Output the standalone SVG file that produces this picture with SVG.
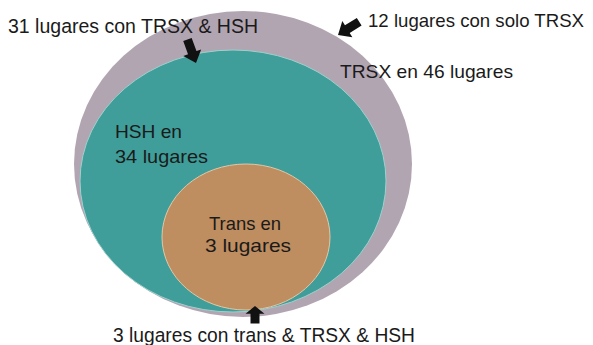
<svg xmlns="http://www.w3.org/2000/svg" width="593" height="345" viewBox="0 0 593 345">
<style>
.t{font-family:"Liberation Sans","DejaVu Sans",sans-serif;fill:#1a1a1a}
.big{font-size:20.5px}
.mid{font-size:18.5px}
.arr{fill:#111}
</style>
<defs>
<polygon id="arrow" points="0,0 -11,-9.5 -11,-4.5 -25,-4.5 -25,4.5 -11,4.5 -11,9.5"/>
</defs>
<rect width="593" height="345" fill="#ffffff"/>
<g id="trsx">
<ellipse cx="243" cy="164" rx="169" ry="153" fill="#b2a5b2"/>
<text class="t mid" x="340" y="78" textLength="173" lengthAdjust="spacingAndGlyphs">TRSX en 46 lugares</text>
</g>
<g id="hsh">
<ellipse cx="233" cy="181" rx="153" ry="131" fill="#3f9e9a" stroke="#9fd0cc" stroke-width="1"/>
<text class="t mid" x="115" y="138" textLength="67" lengthAdjust="spacingAndGlyphs">HSH en</text>
<text class="t mid" x="115" y="163" textLength="93" lengthAdjust="spacingAndGlyphs">34 lugares</text>
</g>
<g id="trans">
<ellipse cx="246" cy="237" rx="84" ry="73" fill="#be8d60" stroke="#e0c8a8" stroke-width="1"/>
<text class="t mid" x="209" y="230" textLength="72" lengthAdjust="spacingAndGlyphs">Trans en</text>
<text class="t mid" x="205" y="252" textLength="86" lengthAdjust="spacingAndGlyphs">3 lugares</text>
</g>
<g id="label-31">
<text class="t big" x="8" y="33" textLength="250" lengthAdjust="spacingAndGlyphs">31 lugares con TRSX &amp; HSH</text>
</g>
<g id="label-12">
<text class="t" style="font-size:19px" x="368" y="27" textLength="216" lengthAdjust="spacingAndGlyphs">12 lugares con solo TRSX</text>
</g>
<g id="label-3">
<text class="t big" x="113" y="342" textLength="302" lengthAdjust="spacingAndGlyphs">3 lugares con trans &amp; TRSX &amp; HSH</text>
</g>
<g id="connectors">
<use href="#arrow" class="arr" transform="translate(196,63) rotate(70)"/>
<use href="#arrow" class="arr" transform="translate(338,35) rotate(148)"/>
<use href="#arrow" class="arr" transform="translate(255,306) rotate(-90) scale(0.7,1)"/>
</g>
</svg>
